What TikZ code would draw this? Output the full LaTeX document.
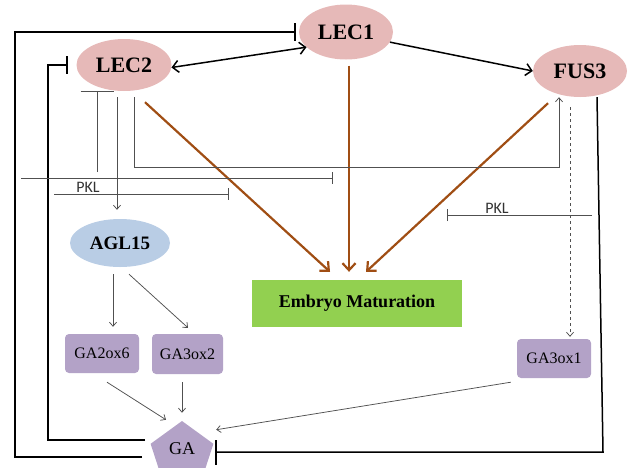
\documentclass[tikz,border=0pt]{standalone}
\usepackage{fontspec}
\setmainfont{Liberation Serif}
\newfontfamily\pklfont{Carlito}
\usetikzlibrary{shapes.geometric,arrows.meta,calc}
\definecolor{pinkc}{HTML}{E6B9B8}
\definecolor{bluec}{HTML}{B9CDE5}
\definecolor{purc}{HTML}{B3A2C7}
\definecolor{greenc}{HTML}{92D050}
\definecolor{brownc}{HTML}{A04E14}
\definecolor{thinc}{HTML}{505050}
\tikzset{
  gene/.style={ellipse, fill=pinkc, inner sep=0pt, font=\bfseries\fontsize{22}{24}\selectfont},
  genebox/.style={rectangle, rounded corners=4pt, fill=purc, inner sep=0pt, font=\fontsize{16}{18}\selectfont},
  thk/.style={line width=1.5pt, black},
  thkarrow/.style={-{Straight Barb[length=6pt,width=12pt]}},
  brn/.style={line width=2.2pt, brownc, -{Straight Barb[length=7pt,width=13pt]}},
  thn/.style={line width=0.75pt, thinc},
  tarrow/.style={-{Straight Barb[length=4pt,width=7pt]}},
  tbar/.style={-{Bar[width=12pt]}},
  pkllabel/.style={font=\pklfont\fontsize{16}{18}\selectfont, text=black!80, inner sep=0pt}
}
\begin{document}
\begin{tikzpicture}[x=1pt,y=-1pt]
\useasboundingbox (0,0) rectangle (628,467);
% nodes
\node[gene, minimum width=94pt, minimum height=55pt] (lec1) at (346,32) {LEC1};
\node[gene, minimum width=95pt, minimum height=52pt] (lec2) at (124,65) {LEC2};
\node[gene, minimum width=94pt, minimum height=52pt] (fus3) at (580,71) {FUS3};
\node[ellipse, fill=bluec, inner sep=0pt, minimum width=100pt, minimum height=48pt,
      font=\bfseries\fontsize{19}{21}\selectfont] (agl) at (120,243) {AGL15};
\node[rectangle, fill=greenc, minimum width=210pt, minimum height=47pt, inner sep=0pt,
      font=\bfseries\fontsize{18}{20}\selectfont] (emb) at (357,303.5) {Embryo Maturation};
\node[genebox, minimum width=74pt, minimum height=39pt] (ga2ox6) at (102,353.5) {GA2ox6};
\node[genebox, minimum width=71pt, minimum height=40pt] (ga3ox2) at (187.5,354) {GA3ox2};
\node[genebox, minimum width=74pt, minimum height=39pt] (ga3ox1) at (554,358.5) {GA3ox1};
\node[regular polygon, regular polygon sides=5, fill=purc, minimum size=66pt, inner sep=0pt] (ga) at (182,454) {};
\node[font=\fontsize{18}{20}\selectfont] (galabel) at (182,449) {GA};
% free ends
\coordinate (gaL1) at (142,457);
\coordinate (gaL2) at (145,440);
\coordinate (outerX) at (15,0);
\coordinate (innerX) at (48,0);
\coordinate (rc) at (603,452);
\coordinate (gaR) at (215,452);
\coordinate (pklA) at (97,172);
\coordinate (pkl1s) at (21,178);
\coordinate (pkl1e) at (333,178);
\coordinate (pkl2s) at (54,194);
\coordinate (pkl2e) at (229,194);
\coordinate (pkl3s) at (592,215);
\coordinate (pkl3e) at (447,215);
% thick black loops
\draw[thk, -{Bar[width=18pt]}] (gaL1) -| (outerX |- lec1.west) -- ([xshift=-3pt]lec1.west);
\draw[thk, -{Bar[width=18pt]}] (gaL2) -| (innerX |- lec2.west) -- ([xshift=-8.5pt]lec2.west);
\draw[thk, -{Bar[width=25pt]}] ([xshift=17pt]fus3.south) -- (rc) -- (gaR);
% thick black arrows
\draw[thk, {Straight Barb[length=6pt,width=12pt]}-{Straight Barb[length=6pt,width=12pt]}] (lec2.-3) -- (lec1.201);
\draw[thk, thkarrow] (lec1.-13) -- (fus3.west);
% brown arrows
\draw[brn] ($(lec2.south)+(21,11)$) -- ($(emb.north)+(-27,-8)$);
\draw[brn] ($(lec1.south)+(3,6)$) -- ($(emb.north)+(-8,-8)$);
\draw[brn] ($(fus3.south)+(-32,6)$) -- ($(emb.north)+(9,-8)$);
% thin gray lines
\draw[thn, -{Bar[width=33pt]}] (pklA) -- (pklA |- lec2.south);
\draw[thn, tarrow] ($(lec2.south)+(-7,6)$) -- ($(agl.north)+(-3,-9)$);
\draw[thn, tarrow] ($(lec2.south)+(10,6)$) |- ($(fus3.south)+(-21,70)$) -- ($(fus3.south)+(-21,0)$);
\draw[thn, tbar] (pkl1s) -- (pkl1e);
\draw[thn, tbar] (pkl2s) -- (pkl2e);
\draw[thn, tbar] (pkl3s) -- (pkl3e);
\node[pkllabel] (pklt1) at (88,187) {PKL};
\node[pkllabel] (pklt2) at (497,208) {PKL};
\draw[thn, dashed, tarrow] ($(fus3.south)+(-10,10)$) -- ($(ga3ox1.north)+(16,-2)$);
\draw[thn, tarrow] ($(agl.south)+(-7,7)$) -- ($(ga2ox6.north)+(11,-7)$);
\draw[thn, tarrow] ($(agl.south)+(9,7)$) -- ($(ga3ox2.north)+(0.5,-6)$);
\draw[thn, tarrow] ($(ga2ox6.south)+(5,9)$) -- ($(ga.corner 1)+(-16,-1)$);
\draw[thn, tarrow] ($(ga3ox2.south)+(-5.5,8)$) -- ($(ga.corner 1)+(0,-8)$);
\draw[thn, tarrow] ($(ga3ox1.south west)+(-6,4)$) -- ($(ga.corner 5)+(2.6,-14)$);
\end{tikzpicture}
\end{document}
